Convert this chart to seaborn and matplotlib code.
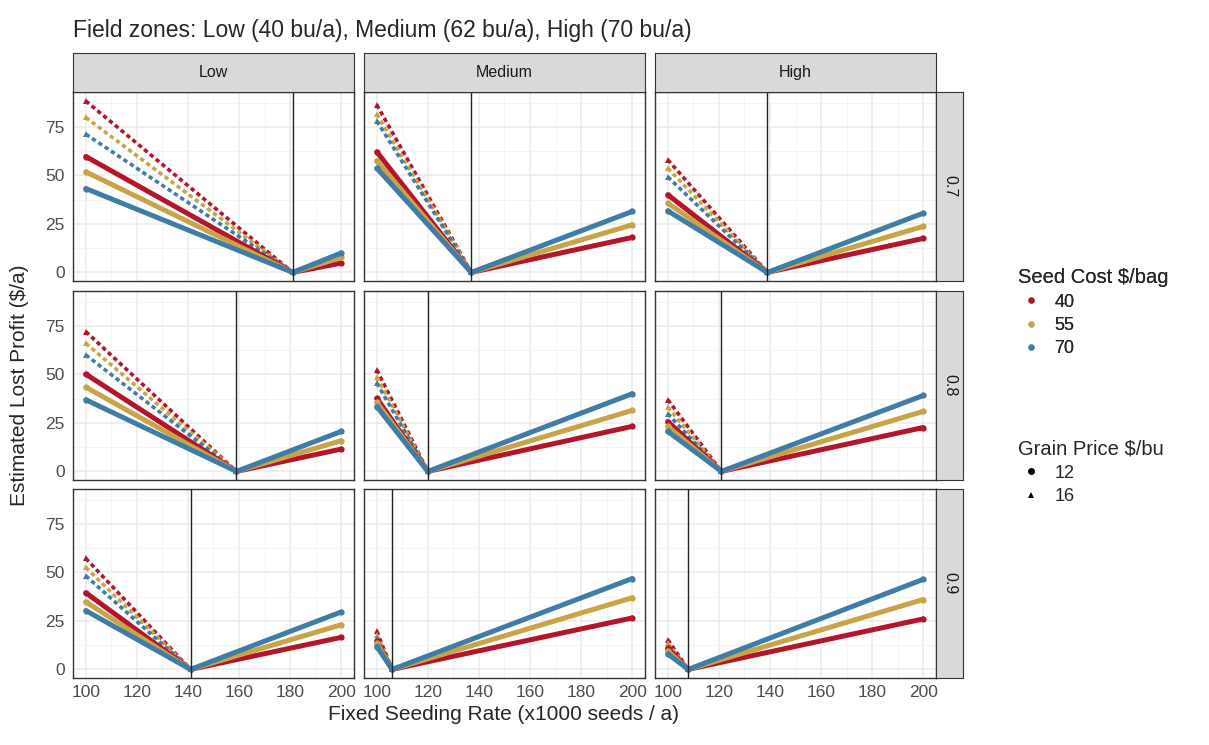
import numpy as np
import pandas as pd
import matplotlib
matplotlib.use("Agg")
import matplotlib.pyplot as plt
from matplotlib.lines import Line2D
from matplotlib.ticker import MultipleLocator
import seaborn as sns

# --- data ---
ZONES = ["Low", "Medium", "High"]
SEED_RATIOS = ["0.7", "0.8", "0.9"]
SEED_COSTS = [40, 55, 70]
GRAIN_PRICES = [12, 16]
RATE_MIN = 100
RATE_MAX = 200

# optimum seeding rate (vertical line) per row / zone
VERTEX = [
    [181, 137, 139],
    [159, 120, 121],
    [141, 106, 108],
]
# lost profit at 100k seeds, grain price 12, seed cost 40/55/70
LEFT_12 = [
    [[59.7, 51.8, 43.2], [62.1, 57.5, 53.7], [40.0, 35.7, 31.7]],
    [[50.1, 43.4, 36.9], [37.7, 35.5, 33.4], [25.7, 23.2, 20.6]],
    [[39.5, 34.8, 30.3], [14.4, 13.5, 11.8], [10.9, 9.5, 8.0]],
]
# lost profit at 100k seeds, grain price 16
LEFT_16 = [
    [[88.3, 79.8, 71.2], [86.3, 81.5, 78.0], [58.0, 53.7, 49.2]],
    [[72.0, 66.0, 60.0], [52.3, 48.5, 45.5], [36.9, 33.1, 29.7]],
    [[57.2, 52.5, 48.2], [19.6, 17.8, 16.0], [15.3, 13.5, 11.8]],
]
# lost profit at 200k seeds (same for both grain prices)
RIGHT = [
    [[4.8, 7.7, 10.0], [18.0, 24.5, 31.4], [17.5, 23.7, 30.5]],
    [[11.5, 15.8, 20.6], [23.2, 31.4, 40.0], [22.6, 30.9, 39.1]],
    [[16.5, 23.0, 29.6], [26.5, 36.9, 46.8], [26.0, 36.0, 46.4]],
]

COLORS = {40: "#B5152B", 55: "#C9A447", 70: "#3F7DA6"}

rows = []
for r, ratio in enumerate(SEED_RATIOS):
    for c, zone in enumerate(ZONES):
        for k, cost in enumerate(SEED_COSTS):
            for price, left in ((12, LEFT_12), (16, LEFT_16)):
                rows.append((ratio, zone, cost, price, RATE_MIN, left[r][c][k]))
                rows.append((ratio, zone, cost, price, VERTEX[r][c], 0.0))
                rows.append((ratio, zone, cost, price, RATE_MAX, RIGHT[r][c][k]))
df = pd.DataFrame(rows, columns=["ratio", "zone", "seed", "grain", "rate", "loss"])

# --- styling ---
sns.set_style("white")
plt.rcParams["font.family"] = ["Liberation Sans", "DejaVu Sans"]

W, H = 1209, 745
fig = plt.figure(figsize=(W / 100, H / 100), dpi=100)

def box(x0, y0, w, h):
    return [x0 / W, 1 - (y0 + h) / H, w / W, h / H]

PANEL_X = [73, 364, 655]
PANEL_Y = [92, 291, 489]
PW, PH = 281, 189
BORDER = "#333333"
YMAX = 88.5

for r, ratio in enumerate(SEED_RATIOS):
    for c, zone in enumerate(ZONES):
        ax = fig.add_axes(box(PANEL_X[c], PANEL_Y[r], PW, PH))
        sub = df[(df.ratio == ratio) & (df.zone == zone)]
        ax.set_axisbelow(True)
        sns.lineplot(data=sub[sub.grain == 16], x="rate", y="loss", hue="seed",
                     hue_order=SEED_COSTS, palette=COLORS, marker="^", markersize=5,
                     markeredgewidth=0, linewidth=2.6, linestyle=(0, (1.2, 0.9)),
                     legend=False, ax=ax)
        sns.lineplot(data=sub[sub.grain == 12], x="rate", y="loss", hue="seed",
                     hue_order=SEED_COSTS, palette=COLORS, marker="o", markersize=4.5,
                     markeredgewidth=0, linewidth=3.6, legend=False, ax=ax)
        ax.axvline(VERTEX[r][c], color="#222222", lw=1.0, zorder=5)
        ax.set_xlim(95, 205)
        ax.set_ylim(-0.05 * YMAX, 1.05 * YMAX)
        ax.xaxis.set_major_locator(MultipleLocator(20))
        ax.xaxis.set_minor_locator(MultipleLocator(10))
        ax.yaxis.set_major_locator(MultipleLocator(25))
        ax.yaxis.set_minor_locator(MultipleLocator(12.5))
        ax.grid(which="major", color="#EBEBEB", lw=1.1)
        ax.grid(which="minor", color="#F2F2F2", lw=0.6)
        for s in ax.spines.values():
            s.set_color(BORDER)
            s.set_linewidth(1.0)
        ax.tick_params(which="major", direction="out", length=4, width=0.9,
                       color=BORDER, labelcolor="#4D4D4D", labelsize=12.5, pad=2)
        ax.tick_params(which="minor", length=0)
        ax.set_xlabel("")
        ax.set_ylabel("")
        if c > 0:
            ax.tick_params(axis="y", labelleft=False, length=0)
        if r < 2:
            ax.tick_params(axis="x", labelbottom=False, length=0)
        else:
            ax.tick_params(axis="x", pad=1)

# column strips
for c, zone in enumerate(ZONES):
    sa = fig.add_axes(box(PANEL_X[c], 53, PW, 39))
    sa.set_facecolor("#D9D9D9")
    sa.set_xticks([])
    sa.set_yticks([])
    for s in sa.spines.values():
        s.set_color(BORDER)
    sa.text(0.5, 0.5, zone, ha="center", va="center", fontsize=11.5,
            color="#1A1A1A", transform=sa.transAxes)

# row strips
for r, ratio in enumerate(SEED_RATIOS):
    sa = fig.add_axes(box(936, PANEL_Y[r], 27, PH))
    sa.set_facecolor("#D9D9D9")
    sa.set_xticks([])
    sa.set_yticks([])
    for s in sa.spines.values():
        s.set_color(BORDER)
    sa.text(0.5, 0.5, ratio, ha="center", va="center", fontsize=11.5,
            rotation=-90, color="#1A1A1A", transform=sa.transAxes)

fig.text(73 / W, 1 - 30 / H, "Field zones: Low (40 bu/a), Medium (62 bu/a), High (70 bu/a)",
         ha="left", va="center", fontsize=16.5)
fig.text(504 / W, 1 - 714 / H, "Fixed Seeding Rate (x1000 seeds / a)",
         ha="center", va="center", fontsize=15)
fig.text(20 / W, 1 - 385 / H, "Estimated Lost Profit ($/a)", rotation=90,
         ha="center", va="center", fontsize=15)

# legends
seed_handles = [Line2D([], [], ls="", marker="o", ms=4.5, mew=0, color=COLORS[k])
                for k in SEED_COSTS]
leg1 = fig.legend(seed_handles, [str(k) for k in SEED_COSTS], title="Seed Cost $/bag",
                  loc="upper left", bbox_to_anchor=(1002 / W, 1 - 252 / H), frameon=False,
                  fontsize=13, title_fontsize=14.5, alignment="left",
                  handletextpad=0.6, labelspacing=0.35, handlelength=1.4)
grain_handles = [Line2D([], [], ls="", marker=m, ms=5, mew=0, color="black")
                 for m in ("o", "^")]
leg2 = fig.legend(grain_handles, [str(p) for p in GRAIN_PRICES], title="Grain Price $/bu",
                  loc="upper left", bbox_to_anchor=(1002 / W, 1 - 423 / H), frameon=False,
                  fontsize=13, title_fontsize=14.5, alignment="left",
                  handletextpad=0.6, labelspacing=0.35, handlelength=1.4)
fig.add_artist(leg1)

fig.savefig("out.png", dpi=100)
